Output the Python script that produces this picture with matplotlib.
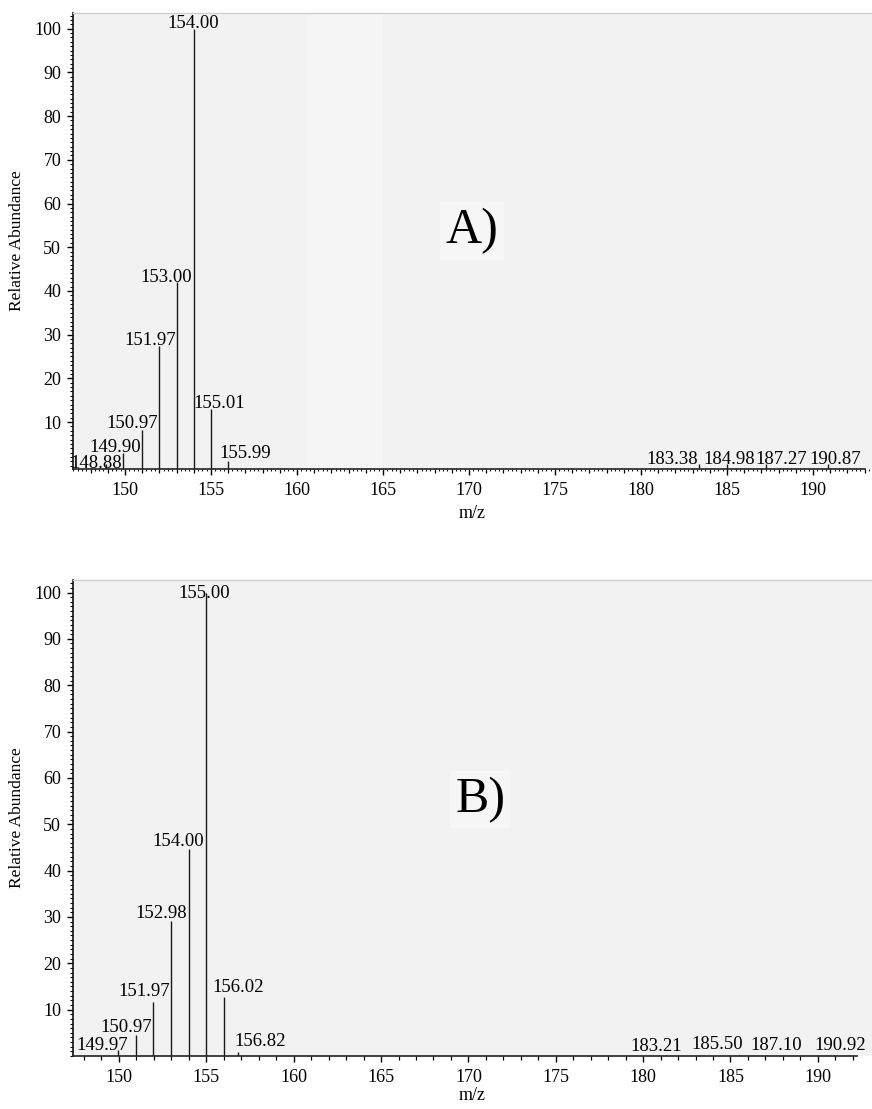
import matplotlib
matplotlib.use("Agg")
import matplotlib.pyplot as plt
from matplotlib.ticker import MultipleLocator, FixedLocator, NullFormatter

plt.rcParams['font.family'] = ['Liberation Serif', 'DejaVu Serif']

# ---------------- data ----------------
mz_A = [148.88, 149.90, 150.97, 151.97, 153.00, 154.00, 155.01, 155.99,
        183.38, 184.98, 187.27, 190.87]
ab_A = [0.5, 2.9, 8.2, 27.4, 42.0, 100.0, 13.0, 1.1, 0.3, 0.3, 0.3, 0.3]
lab_A = ["148.88", "149.90", "150.97", "151.97", "153.00", "154.00", "155.01",
         "155.99", "183.38", "184.98", "187.27", "190.87"]

mz_B = [149.97, 150.97, 151.97, 152.98, 154.00, 155.00, 156.02, 156.82,
        183.21, 185.50, 187.10, 190.92]
ab_B = [1.3, 4.5, 11.7, 29.2, 44.7, 100.0, 12.7, 0.9, 0.3, 0.3, 0.3, 0.3]
lab_B = ["149.97", "150.97", "151.97", "152.98", "154.00", "155.00", "156.02",
         "156.82", "183.21", "185.50", "187.10", "190.92"]

y_ticks = [10, 20, 30, 40, 50, 60, 70, 80, 90, 100]
x_ticks = [150, 155, 160, 165, 170, 175, 180, 185, 190]

# label offsets (pixels) – style only
off_A = [(-9, -4.5), (-8, 1), (-9, 2), (-9, 1), (-10, 0), (-1, 0.5), (8, 1),
         (17, 3), (-27, 0.4), (3, 0.4), (15, 0.4), (7, 0.4)]
off_B = [(-16, 0), (-10, 3), (-9, 6), (-10, 3), (-11, 3), (-2, -5), (14, 5),
         (22, 6), (-43, 3.6), (-22, 5.6), (9, 4.6), (6, 4.6)]

W, H = 872, 1109
fig = plt.figure(figsize=(W / 100, H / 100), dpi=100)
fig.patch.set_facecolor('white')


def make_panel(rect, xlim, ylim, mz, ab, labs, offs, tag, tag_xy, dense, xlab_y,
               xspine_end, minor_max):
    ax = fig.add_axes(rect)
    ax.set_facecolor('#f2f2f2')
    ax.set_xlim(*xlim)
    ax.set_ylim(*ylim)
    ybot = ylim[0]
    ax.vlines(mz, ybot, ab, color='#1a1a1a', lw=1.0)
    for x, h, t, (dx, dy) in zip(mz, ab, labs, offs):
        ax.annotate(t, xy=(x, h), xytext=(dx, dy), textcoords='offset pixels',
                    ha='center', va='baseline', fontsize=13.5, color='black')
    ax.text(tag_xy[0], tag_xy[1], tag, fontsize=36, ha='center', va='center',
            bbox=dict(facecolor='#f6f6f6', edgecolor='none', pad=4))
    # spines
    ax.spines['right'].set_visible(False)
    ax.spines['top'].set_color('#cfcfcf')
    ax.spines['top'].set_linewidth(1.0)
    ax.spines['left'].set_color('#111111')
    ax.spines['left'].set_linewidth(1.2)
    ax.spines['bottom'].set_color('#222222')
    ax.spines['bottom'].set_linewidth(1.2)
    ax.spines['bottom'].set_bounds(xlim[0], xspine_end)
    # y ticks
    ax.yaxis.set_major_locator(FixedLocator(y_ticks))
    ax.yaxis.set_minor_locator(MultipleLocator(1))
    ax.tick_params(axis='y', which='major', length=4.5, width=1.0, pad=4,
                   labelsize=13, direction='out')
    ax.tick_params(axis='y', which='minor', length=2.2, width=0.8, direction='out')
    # x ticks
    ax.xaxis.set_major_locator(FixedLocator(x_ticks))
    ax.xaxis.set_minor_locator(FixedLocator(list(range(148, minor_max + 1))))
    ax.tick_params(axis='x', which='major', length=4.5, width=1.0, pad=5,
                   labelsize=13, direction='out')
    ax.tick_params(axis='x', which='minor', length=3.0, width=0.9, direction='out')
    if dense:
        sec = ax.secondary_xaxis(0)
        sec.spines['bottom'].set_visible(False)
        sec.xaxis.set_major_locator(MultipleLocator(0.25))
        sec.xaxis.set_major_formatter(NullFormatter())
        sec.tick_params(axis='x', which='major', length=1.5, width=0.7, direction='out')
    ax.set_ylabel('Relative Abundance', fontsize=12.5)
    ax.yaxis.set_label_coords(-0.06, 0.5)
    ax.set_xlabel('m/z', fontsize=13)
    ax.xaxis.set_label_coords(0.5, xlab_y)
    return ax


axA = make_panel([73 / W, 1 - 469 / H, 1 - 73 / W, (469 - 13) / H],
                 (146.98, 193.43), (-0.75, 103.6), mz_A, ab_A, lab_A, off_A,
                 'A)', (170.2, 53.7), True, -0.078, 193.0, 193)
axA.axvspan(160.6, 165.0, color='#f5f5f5', zorder=0, lw=0)

axB = make_panel([73 / W, 1 - 1056 / H, 1 - 73 / W, (1056 - 580) / H],
                 (147.37, 193.1), (0.0, 102.7), mz_B, ab_B, lab_B, off_B,
                 'B)', (170.7, 55.3), False, -0.066, 192.25, 192)

fig.savefig('out.png', dpi=100)
